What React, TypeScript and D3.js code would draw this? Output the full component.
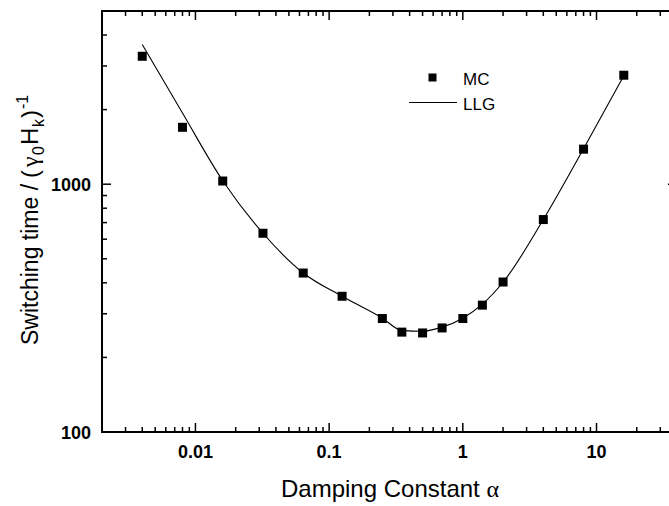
import React from "react";
import * as d3 from "d3";

const mcAlpha = [0.004, 0.008, 0.016, 0.032, 0.064, 0.125, 0.25, 0.35, 0.5, 0.7, 1.0, 1.4, 2, 4, 8, 16];
const mcTime = [3283, 1697, 1030, 634, 438, 353, 287, 253, 251, 263, 287, 325, 403, 720, 1385, 2753];

const llgAlpha = [0.004, 0.008, 0.016, 0.032, 0.064, 0.125, 0.25, 0.35, 0.5, 0.7, 1.0, 1.4, 2, 4, 8, 16];
const llgTime = [3665, 1937, 1033, 634, 438, 353, 288, 257, 255, 265, 288, 328, 402, 720, 1390, 2740];

const xMajorTicks = [0.01, 0.1, 1, 10];
const xTickLabels = ["0.01", "0.1", "1", "10"];
const yMajorTicks = [100, 1000];
const yTickLabels = ["100", "1000"];

const W = 669;
const H = 506;

export default function App() {
  const x = d3.scaleLog().domain([0.002, 40]).range([102, 677]);
  const y = d3.scaleLog().domain([100, 5000]).range([432, 11]);

  const xMinor: number[] = [];
  for (let e = -3; e <= 1; e++) {
    for (let m = 2; m <= 9; m++) {
      const v = m * Math.pow(10, e);
      if (v >= 0.002 - 1e-12 && v <= 40 + 1e-9) xMinor.push(v);
    }
  }
  const yMinor: number[] = [];
  for (let e = 2; e <= 3; e++) {
    for (let m = 2; m <= 9; m++) {
      const v = m * Math.pow(10, e);
      if (v <= 5000 + 1e-9) yMinor.push(v);
    }
  }

  const [x0, x1] = x.range();
  const [y0, y1] = y.range();
  const majLen = 9;
  const minLen = 5;

  const line = d3
    .line<number>()
    .x((_, i) => x(llgAlpha[i]))
    .y((d) => y(d))
    .curve(d3.curveMonotoneX);

  const sq = 9;
  const font = "'Liberation Sans', Arial, sans-serif";
  const serif = "'Liberation Serif', serif";

  return (
    <div style={{ position: "absolute", left: 0, top: 0 }}>
      <svg width={W} height={H} style={{ display: "block", background: "#fff" }} fontFamily={font}>
        <rect x={0} y={0} width={W} height={H} fill="#fff" />
        <path d={line(llgTime) || ""} fill="none" stroke="#000" strokeWidth={1.1} />
        {mcAlpha.map((a, i) => (
          <rect key={i} x={x(a) - sq / 2} y={y(mcTime[i]) - sq / 2} width={sq} height={sq} fill="#000" />
        ))}
        <g stroke="#000" strokeWidth={1.5}>
          {xMajorTicks.map((v, i) => (
            <g key={"xm" + i}>
              <line x1={x(v)} x2={x(v)} y1={y0} y2={y0 - majLen} />
              <line x1={x(v)} x2={x(v)} y1={y1} y2={y1 + majLen} />
            </g>
          ))}
          {xMinor.map((v, i) => (
            <g key={"xn" + i}>
              <line x1={x(v)} x2={x(v)} y1={y0} y2={y0 - minLen} />
              <line x1={x(v)} x2={x(v)} y1={y1} y2={y1 + minLen} />
            </g>
          ))}
          {yMajorTicks.map((v, i) => (
            <g key={"ym" + i}>
              <line x1={x0} x2={x0 + majLen} y1={y(v)} y2={y(v)} />
              <line x1={x1} x2={x1 - majLen} y1={y(v)} y2={y(v)} />
            </g>
          ))}
          {yMinor.map((v, i) => (
            <g key={"yn" + i}>
              <line x1={x0} x2={x0 + minLen} y1={y(v)} y2={y(v)} />
              <line x1={x1} x2={x1 - minLen} y1={y(v)} y2={y(v)} />
            </g>
          ))}
        </g>
        <rect x={x0} y={y1} width={x1 - x0} height={y0 - y1} fill="none" stroke="#000" strokeWidth={2} />
        {xMajorTicks.map((v, i) => (
          <text key={"xl" + i} x={x(v)} y={458} textAnchor="middle" fontSize={18} fontWeight="bold">
            {xTickLabels[i]}
          </text>
        ))}
        {yMajorTicks.map((v, i) => (
          <text key={"yl" + i} x={91} y={y(v) + 6.5} textAnchor="end" fontSize={18} fontWeight="bold">
            {yTickLabels[i]}
          </text>
        ))}
        <text x={390} y={497} textAnchor="middle" fontSize={24}>
          Damping Constant <tspan fontFamily={serif}>α</tspan>
        </text>
        <g transform="translate(38,345) rotate(-90)">
          <text x={0} y={0} fontSize={23}>
            <tspan x={0} y={0}>Switching time /</tspan>
            <tspan x={167} y={0} fontSize={24}>(</tspan>
            <tspan x={178} y={0} fontSize={24} fontFamily={serif}>γ</tspan>
            <tspan x={190} y={6} fontSize={16}>0</tspan>
            <tspan x={200} y={0} fontSize={24}>H</tspan>
            <tspan x={218} y={6} fontSize={16}>k</tspan>
            <tspan x={227} y={0} fontSize={24}>)</tspan>
            <tspan x={236} y={-10} fontSize={16}>-1</tspan>
          </text>
        </g>
        <rect x={432.5 - 4} y={77.5 - 4} width={8} height={8} fill="#000" />
        <text x={463} y={84.5} fontSize={17}>MC</text>
        <line x1={409} x2={457} y1={102.5} y2={102.5} stroke="#000" strokeWidth={1.1} />
        <text x={463} y={110} fontSize={17}>LLG</text>
      </svg>
    </div>
  );
}
